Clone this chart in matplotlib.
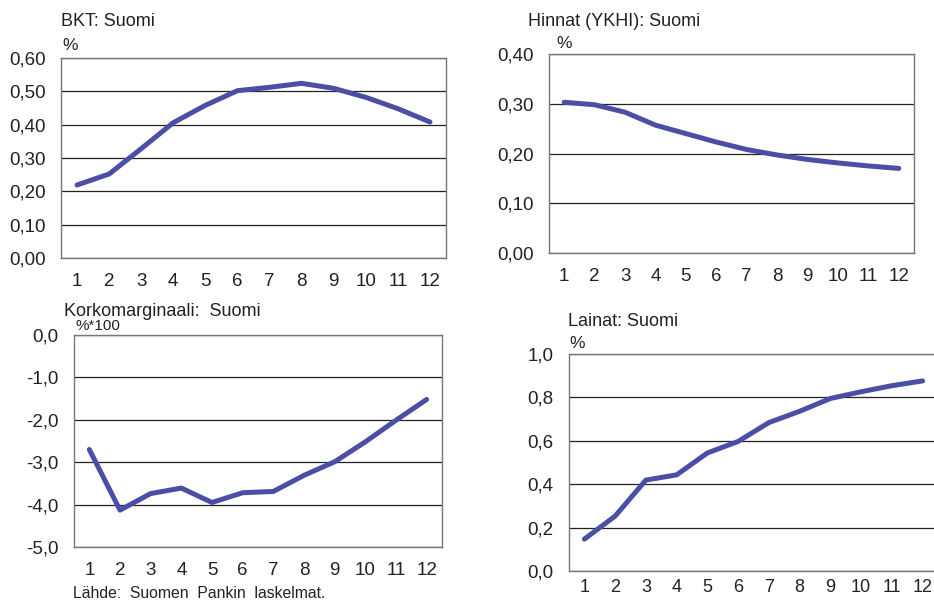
import matplotlib
matplotlib.use('Agg')
import matplotlib.pyplot as plt

plt.rcParams['font.family'] = ['Liberation Sans', 'DejaVu Sans']

months = list(range(1, 13))

bkt = [0.219, 0.252, 0.328, 0.406, 0.458, 0.502, 0.512, 0.524, 0.509, 0.482, 0.448, 0.408]
hinnat = [0.303, 0.298, 0.283, 0.257, 0.240, 0.223, 0.208, 0.197, 0.188, 0.181, 0.175, 0.170]
korko = [-2.70, -4.13, -3.74, -3.61, -3.95, -3.72, -3.69, -3.31, -2.99, -2.52, -2.01, -1.52]
lainat = [0.147, 0.253, 0.419, 0.443, 0.544, 0.597, 0.684, 0.736, 0.795, 0.826, 0.854, 0.876]

bkt_ticks = [0.0, 0.1, 0.2, 0.3, 0.4, 0.5, 0.6]
hinnat_ticks = [0.0, 0.1, 0.2, 0.3, 0.4]
korko_ticks = [0.0, -1.0, -2.0, -3.0, -4.0, -5.0]
lainat_ticks = [0.0, 0.2, 0.4, 0.6, 0.8, 1.0]

LINE = '#4a4fa5'
W, H = 934, 601


def px_axes(fig, left, top, right, bottom):
    return fig.add_axes([left / W, 1 - bottom / H, (right - left) / W, (bottom - top) / H])


def draw_panel(ax, values, ticks, decimals, title, unit, title_xy, unit_xy,
               unit_size=12.5, xpad=11):
    ax.plot(months, values, color=LINE, linewidth=3.6, solid_capstyle='round',
            solid_joinstyle='round', zorder=3)
    ax.set_xlim(0.5, 12.5)
    ax.set_ylim(min(ticks), max(ticks))
    ax.set_xticks(months)
    ax.set_yticks(ticks)
    ax.set_yticklabels([('{:.%df}' % decimals).format(t).replace('.', ',') for t in ticks])
    ax.tick_params(length=0, labelsize=13.5, colors='#222222')
    ax.tick_params(axis='y', pad=11)
    ax.tick_params(axis='x', pad=xpad)
    ax.grid(axis='y', color='#222222', linewidth=0.9, zorder=1)
    for s in ax.spines.values():
        s.set_color('#777777')
        s.set_linewidth(1.0)
    fig = ax.figure
    fig.text(title_xy[0] / W, 1 - title_xy[1] / H, title, fontsize=13,
             color='#222222', va='center', ha='left')
    fig.text(unit_xy[0] / W, 1 - unit_xy[1] / H, unit, fontsize=unit_size,
             color='#222222', va='center', ha='left')


fig = plt.figure(figsize=(W / 100, H / 100), dpi=100)

ax1 = px_axes(fig, 61, 58, 446, 258)
draw_panel(ax1, bkt, bkt_ticks, 2, 'BKT: Suomi', '%', (61, 21), (62, 46))

ax2 = px_axes(fig, 549, 54, 914, 253)
draw_panel(ax2, hinnat, hinnat_ticks, 2, 'Hinnat (YKHI): Suomi', '%', (528, 21), (556, 44))

ax3 = px_axes(fig, 74, 335, 442, 547)
draw_panel(ax3, korko, korko_ticks, 1, 'Korkomarginaali:  Suomi', '%*100', (64, 311), (75, 326),
           unit_size=11)

# the right panel runs past the figure edge, as in the source
ax4 = px_axes(fig, 569, 354, 938, 571)
draw_panel(ax4, lainat, lainat_ticks, 1, 'Lainat: Suomi', '%', (568, 321), (569, 344),
           xpad=6)
for lbl in ax4.get_xticklabels():
    lbl.set_fontsize(13)

fig.text(73 / W, 1 - 593 / H, 'Lähde:  Suomen  Pankin  laskelmat.', fontsize=11.3,
         color='#222222', va='center', ha='left')

fig.savefig('out.png', dpi=100)
